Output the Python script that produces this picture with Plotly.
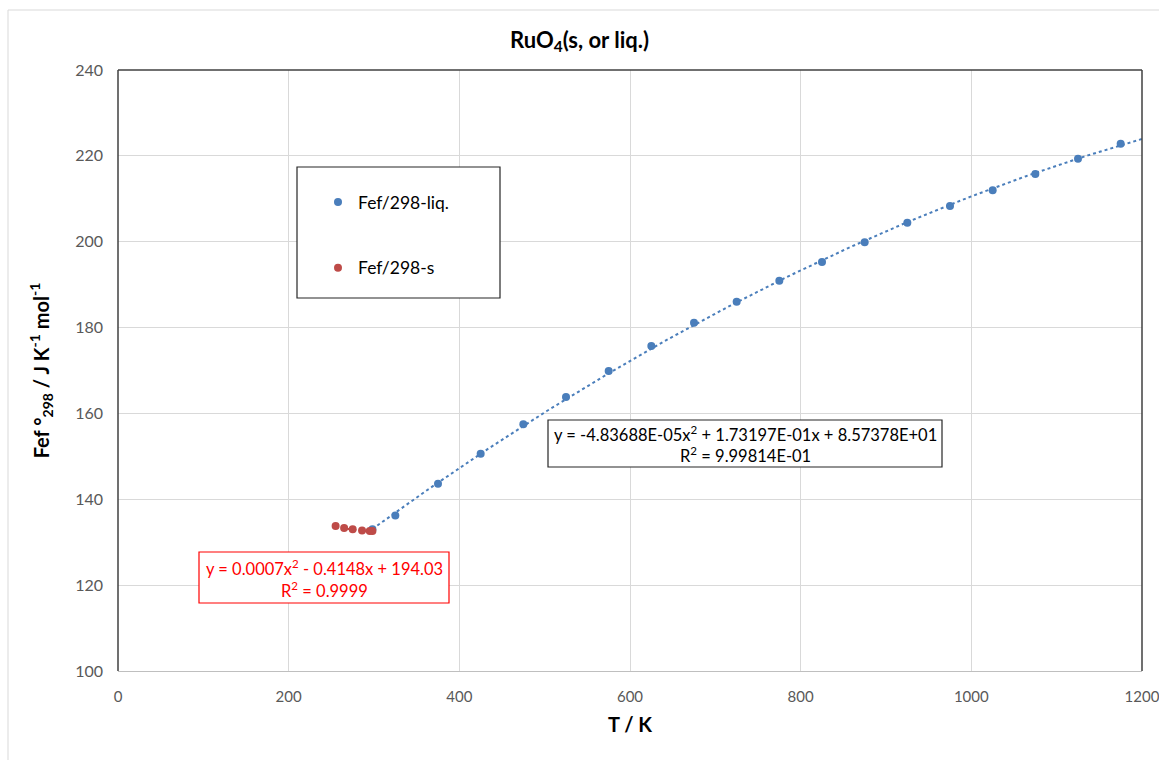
import numpy as np
import plotly.graph_objects as go

# ---- data ----
T_liq = [298.15, 325, 375, 425, 475, 525, 575, 625, 675, 725, 775, 825, 875, 925, 975, 1025, 1075, 1125, 1175]
fef_liq = [133.0, 136.2, 143.6, 150.6, 157.5, 163.8, 169.9, 175.7, 181.1, 186.0, 190.9, 195.3, 199.9, 204.4, 208.3, 212.0, 215.8, 219.3, 222.8]
T_s = [255, 265, 275, 286, 295, 298.15]
fef_s = [133.8, 133.3, 133.0, 132.7, 132.6, 132.6]
coef_liq = [-4.83688e-05, 1.73197e-01, 8.57378e+01]
coef_s = [0.0007, -0.4148, 194.03]
x_ticks = [0, 200, 400, 600, 800, 1000, 1200]
y_ticks = [100, 120, 140, 160, 180, 200, 220, 240]

BLUE = "#4a7ebb"
RED = "#be4b48"
FONT = "Lato"

W, H = 1159, 760
L, R, T, B = 118, 17, 70, 89
PW, PH = W - L - R, H - T - B


def px(x):
    return (x - L) / PW


def py(y):
    return (H - B - y) / PH


fig = go.Figure()

xl = np.linspace(T_liq[0], 1200, 200)
fig.add_trace(go.Scatter(x=xl, y=np.polyval(coef_liq, xl), mode="lines", showlegend=False,
                         line=dict(color=BLUE, width=2, dash="dot"), hoverinfo="skip"))
xs = np.linspace(T_s[0], T_s[-1], 50)
fig.add_trace(go.Scatter(x=xs, y=np.polyval(coef_s, xs), mode="lines", showlegend=False,
                         line=dict(color=RED, width=2, dash="dot"), hoverinfo="skip"))
fig.add_trace(go.Scatter(x=T_liq, y=fef_liq, mode="markers", name="Fef/298-liq.",
                         legendgroup="a", marker=dict(color=BLUE, size=8)))
fig.add_trace(go.Scatter(x=T_s, y=fef_s, mode="markers", name="Fef/298-s",
                         legendgroup="b", marker=dict(color=RED, size=8)))

shapes = [
    # outer chart border
    dict(type="rect", xref="paper", yref="paper", x0=px(8), x1=px(1170), y0=py(770), y1=py(10),
         line=dict(color="#d9d9d9", width=1), layer="below"),
    # plot area border (left, top, right)
    dict(type="line", xref="paper", yref="paper", x0=0, x1=0, y0=0, y1=1, line=dict(color="#404040", width=1.5)),
    dict(type="line", xref="paper", yref="paper", x0=0, x1=1, y0=1, y1=1, line=dict(color="#404040", width=1.5)),
    dict(type="line", xref="paper", yref="paper", x0=1, x1=1, y0=0, y1=1, line=dict(color="#404040", width=1.5)),
    # legend box
    dict(type="rect", xref="paper", yref="paper", x0=px(297), x1=px(500), y0=py(298), y1=py(167),
         line=dict(color="#262626", width=1.2), fillcolor="white", layer="above"),
    # equation boxes
    dict(type="rect", xref="paper", yref="paper", x0=px(548), x1=px(942), y0=py(467), y1=py(420),
         line=dict(color="#262626", width=1.2), fillcolor="white", layer="above"),
    dict(type="rect", xref="paper", yref="paper", x0=px(199), x1=px(449), y0=py(603), y1=py(552),
         line=dict(color="#ff0000", width=1.2), fillcolor="white", layer="above"),
]

annotations = [
    dict(text="y = -4.83688E-05x<sup>2</sup> + 1.73197E-01x + 8.57378E+01", xref="paper", yref="paper",
         x=px(745), y=py(434), xanchor="center", yanchor="middle", showarrow=False,
         font=dict(family=FONT, size=16.5, color="#000000")),
    dict(text="R<sup>2</sup> = 9.99814E-01", xref="paper", yref="paper",
         x=px(745), y=py(455), xanchor="center", yanchor="middle", showarrow=False,
         font=dict(family=FONT, size=16.5, color="#000000")),
    dict(text="y = 0.0007x<sup>2</sup> - 0.4148x + 194.03", xref="paper", yref="paper",
         x=px(324), y=py(568), xanchor="center", yanchor="middle", showarrow=False,
         font=dict(family=FONT, size=16.5, color="#ff0000")),
    dict(text="R<sup>2</sup> = 0.9999", xref="paper", yref="paper",
         x=px(324), y=py(590), xanchor="center", yanchor="middle", showarrow=False,
         font=dict(family=FONT, size=16.5, color="#ff0000")),
]

fig.update_layout(
    width=W, height=H,
    margin=dict(l=L, r=R, t=T, b=B),
    paper_bgcolor="white", plot_bgcolor="white",
    font=dict(family=FONT, color="#595959"),
    title=dict(text="<b>RuO<sub>4</sub>(s, or liq.)</b>", x=0.5, xref="container", xanchor="center",
               y=1 - 40 / H, yref="container", yanchor="middle",
               font=dict(family=FONT, size=22, color="#000000")),
    showlegend=True,
    legend=dict(x=px(318), y=py(184), xanchor="left", yanchor="top", bgcolor="rgba(0,0,0,0)",
                borderwidth=0, font=dict(family=FONT, size=17.5, color="#000000"),
                tracegroupgap=40),
    shapes=shapes,
    annotations=annotations,
    xaxis=dict(range=[0, 1200], tickvals=x_ticks, showgrid=True, gridcolor="#d9d9d9", gridwidth=1,
               showline=True, linecolor="#bfbfbf", linewidth=1, zeroline=False,
               tickfont=dict(family=FONT, size=15, color="#595959"), ticklabelstandoff=12,
               ticklabeloverflow="allow", automargin="height",
               title=dict(text="<b>T / K</b>", font=dict(family=FONT, size=20, color="#000000"), standoff=13)),
    yaxis=dict(range=[100, 240], tickvals=y_ticks, showgrid=True, gridcolor="#d9d9d9", gridwidth=1,
               showline=False, zeroline=False,
               tickfont=dict(family=FONT, size=16, color="#595959"), ticklabelstandoff=14,
               title=dict(text="<b>Fef °<sub>298</sub> / J K<sup>-1</sup> mol<sup>-1</sup></b>",
                          font=dict(family=FONT, size=20, color="#000000"), standoff=20)),
)

fig.write_html("out.html")
